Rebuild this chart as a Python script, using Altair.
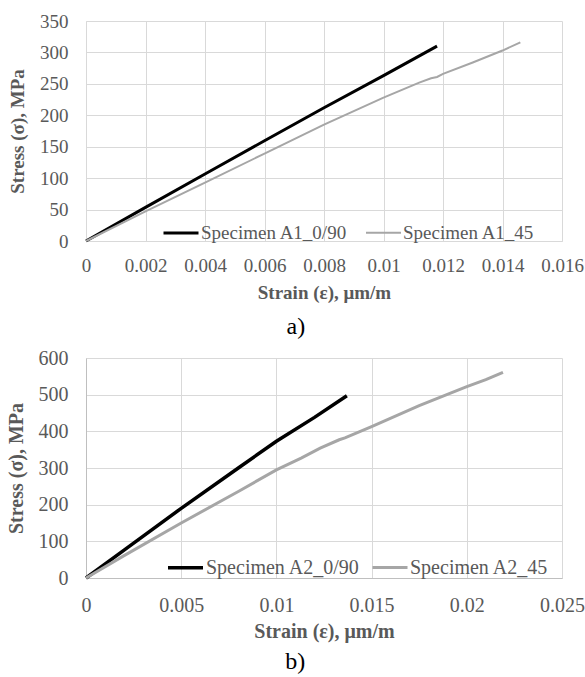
import altair as alt
import pandas as pd

# ---- Panel a) data ----
a1_090_strain = [0, 0.002, 0.004, 0.006, 0.008, 0.010, 0.0118]
a1_090_stress = [0, 53.5, 106.5, 159.5, 212, 263, 310]
a1_45_strain = [0, 0.002, 0.004, 0.006, 0.008, 0.010, 0.0112, 0.0116, 0.0118, 0.012, 0.013, 0.014, 0.0146]
a1_45_stress = [0, 47, 93, 139, 185, 228, 252, 259, 261, 266, 284, 303, 316]

# ---- Panel b) data ----
a2_090_strain = [0, 0.002, 0.005, 0.008, 0.010, 0.012, 0.0137]
a2_090_stress = [0, 76, 190, 300, 373, 438, 497]
a2_45_strain = [0, 0.002, 0.005, 0.008, 0.010, 0.0113, 0.0123, 0.0133, 0.0136, 0.015, 0.0175, 0.020, 0.021, 0.0219]
a2_45_stress = [0, 61, 150, 236, 295, 327, 354, 377, 382, 413, 470, 522, 541, 561]

names_a = ["Specimen A1_0/90", "Specimen A1_45"]
names_b = ["Specimen A2_0/90", "Specimen A2_45"]
x_ticks_a = [0, 0.002, 0.004, 0.006, 0.008, 0.010, 0.012, 0.014, 0.016]
y_ticks_a = [0, 50, 100, 150, 200, 250, 300, 350]
x_ticks_b = [0, 0.005, 0.010, 0.015, 0.020, 0.025]
y_ticks_b = [0, 100, 200, 300, 400, 500, 600]

FONT = "Liberation Serif"
GRAY = "#595959"


def make_df(names, s1, y1, s2, y2):
    rows = []
    for x, y in zip(s1, y1):
        rows.append({"strain": x, "stress": y, "series": names[0]})
    for x, y in zip(s2, y2):
        rows.append({"strain": x, "stress": y, "series": names[1]})
    return pd.DataFrame(rows)


def panel(df, names, xticks, yticks, fs, widths, domain_color, label,
          lx, ly, colpad, lab_pad_x, title_pad_x, title_off, lab_pad_y, title_pad_y, dx):
    return alt.Chart(df).mark_line().encode(
        x=alt.X("strain:Q",
                scale=alt.Scale(domain=[xticks[0], xticks[-1]], nice=False, zero=True),
                axis=alt.Axis(values=xticks, format="~g", title="Strain (ε), μm/m",
                              grid=True, gridColor="#d9d9d9", gridWidth=1,
                              domainColor=domain_color, domainWidth=1, ticks=False,
                              labelFontSize=fs, labelColor=GRAY,
                              labelFlush=False, labelOverlap=False, labelPadding=lab_pad_x,
                              titleFontSize=fs, titleFontWeight="bold",
                              titleColor=GRAY, titlePadding=title_pad_x)),
        y=alt.Y("stress:Q",
                scale=alt.Scale(domain=[yticks[0], yticks[-1]], nice=False),
                axis=alt.Axis(values=yticks, format="d", title="Stress (σ), MPa",
                              grid=True, gridColor="#d9d9d9", gridWidth=1,
                              domainColor=domain_color, domainWidth=1, ticks=False,
                              labelFontSize=fs, labelColor=GRAY,
                              labelOverlap=False, labelPadding=lab_pad_y,
                              titleFontSize=fs, titleFontWeight="bold",
                              titleColor=GRAY, titlePadding=title_pad_y)),
        color=alt.Color("series:N",
                        scale=alt.Scale(domain=names, range=["#000000", "#a6a6a6"]),
                        legend=alt.Legend(title=None, orient="none", legendX=lx, legendY=ly,
                                          direction="horizontal", symbolType="stroke",
                                          symbolSize=1225, symbolStrokeWidth=2.5,
                                          labelFontSize=fs, labelColor=GRAY,
                                          labelOffset=1, columnPadding=colpad, padding=0)),
        strokeWidth=alt.StrokeWidth("series:N",
                                    scale=alt.Scale(domain=names, range=widths),
                                    legend=None),
    ).properties(
        width=476, height=220,
        title=alt.TitleParams(label, orient="bottom", anchor="middle", frame="bounds",
                              fontSize=24, fontWeight="normal",
                              color="black", offset=title_off, dx=dx),
    )


df_a = make_df(names_a, a1_090_strain, a1_090_stress, a1_45_strain, a1_45_stress)
df_b = make_df(names_b, a2_090_strain, a2_090_stress, a2_45_strain, a2_45_stress)

top = panel(df_a, names_a, x_ticks_a, y_ticks_a, 19, [3.0, 2.0], "#d9d9d9", "a)",
            76, 193, 14, 15, 8, 13, 18, 12, 0)
bottom = panel(df_b, names_b, x_ticks_b, y_ticks_b, 20, [3.5, 3.0], "#bfbfbf", "b)",
               80, 190, 6, 17, 6, 9, 18, 12, 0)

chart = alt.vconcat(top, bottom, spacing=9).resolve_scale(
    x="independent", y="independent", color="independent", strokeWidth="independent"
).resolve_legend(color="independent").properties(
    padding={"left": 6, "top": 12, "right": 0, "bottom": 0},
    background="white",
).configure(
    font=FONT
).configure_axis(
    labelFont=FONT, titleFont=FONT
).configure_legend(
    labelFont=FONT
).configure_title(
    font=FONT
).configure_view(stroke=None)

chart.save("out.html", embed_options={"renderer": "svg", "actions": False})
